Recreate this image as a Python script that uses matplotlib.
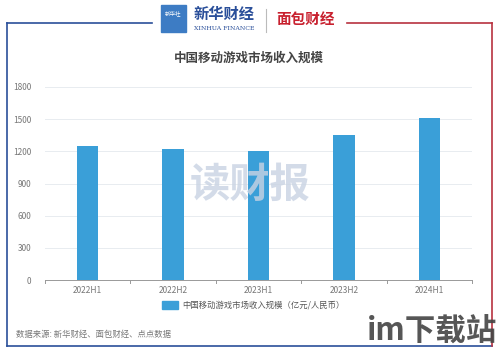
import matplotlib.pyplot as plt
from matplotlib.patches import Rectangle
from matplotlib.lines import Line2D

plt.rcParams['font.family'] = ['Noto Sans CJK SC', 'DejaVu Sans']

# Data
periods = ['2022H1', '2022H2', '2023H1', '2023H2', '2024H1']
revenue = [1250, 1225, 1205, 1350, 1510]
yticks = [0, 300, 600, 900, 1200, 1500, 1800]

title = '中国移动游戏市场收入规模'
legend_label = '中国移动游戏市场收入规模（亿元/人民币）'
source = '数据来源: 新华财经、面包财经、点点数据'

W, H = 499, 353
fig = plt.figure(figsize=(W / 100, H / 100), dpi=100)
fig.patch.set_facecolor('white')


def fx(px):
    return px / W


def fy(py):
    return 1 - py / H


# Frame: blue on the left, red on the right
blue, red = '#2a4f9a', '#b83240'
fig.add_artist(Line2D([fx(7), fx(152)], [fy(23), fy(23)], color=blue, lw=1.2))
fig.add_artist(Line2D([fx(7), fx(7)], [fy(23), fy(346)], color=blue, lw=1.2))
fig.add_artist(Line2D([fx(7), fx(492)], [fy(346), fy(346)], color=blue, lw=1.2))
fig.add_artist(Line2D([fx(347), fx(492)], [fy(23), fy(23)], color=red, lw=1.2))
fig.add_artist(Line2D([fx(492), fx(492)], [fy(23), fy(346)], color=red, lw=1.2))

# Logos (approximate)
fig.add_artist(Rectangle((fx(161), fy(32)), fx(25), 27 / H, color='#3d7cc4', transform=fig.transFigure))
fig.text(fx(173.5), fy(13), '新华社', fontsize=4, color='white', ha='center', va='center')
fig.text(fx(224), fy(14), '新华财经', fontsize=11, color='#2a4f9a', ha='center', va='center',
         fontweight='bold')
fig.text(fx(224), fy(29), 'XINHUA FINANCE', fontsize=4.5, color='#2a4f9a', ha='center', va='center',
         family='DejaVu Serif')
fig.add_artist(Line2D([fx(266), fx(266)], [fy(9), fy(32)], color='#bbbbbb', lw=0.8))
fig.text(fx(306), fy(19), '面包财经', fontsize=10.5, color='#c8202e', ha='center', va='center',
         fontweight='bold')

fig.text(fx(249), fy(58), title, fontsize=9, fontweight='bold', color='#444444',
         ha='center', va='center')

ax = fig.add_axes([fx(45), fy(280), fx(472) - fx(45), (280 - 87) / H])
x = range(len(periods))
ax.bar(x, revenue, width=0.25, color='#3a9fd8', zorder=3)
ax.set_xlim(-0.5, len(periods) - 0.5)
ax.set_ylim(0, 1800)
ax.set_yticks(yticks)
ax.set_yticklabels([str(v) for v in yticks], fontsize=6, color='#777777')
ax.set_xticks(list(x))
ax.set_xticklabels(periods, fontsize=6, color='#777777')
ax.tick_params(axis='x', length=0, pad=4)
ax.tick_params(axis='y', length=0, pad=10)
# boundary ticks on the x axis
for b in [i - 0.5 for i in range(len(periods) + 1)]:
    ax.plot([b, b], [0, -25], color='#999999', lw=0.7, clip_on=False, zorder=4)
ax.grid(axis='y', color='#e8ecf0', lw=0.7, zorder=0)
for s in ['top', 'right', 'left']:
    ax.spines[s].set_visible(False)
ax.spines['bottom'].set_color('#999999')
ax.spines['bottom'].set_linewidth(0.7)

# Watermark
fig.text(fx(250), fy(185), '读财报', fontsize=29, fontweight='bold', color='#c9d3e3',
         alpha=0.8, ha='center', va='center', zorder=5)

# Legend
fig.add_artist(Rectangle((fx(162), fy(309)), fx(16), 8 / H, color='#3a9fd8', transform=fig.transFigure))
fig.text(fx(182), fy(305), legend_label, fontsize=6, color='#555555', ha='left', va='center')

fig.text(fx(16), fy(334), source, fontsize=6, color='#777777', ha='left', va='center')

# bottom-right site watermark
fig.text(fx(497), fy(332), 'im下载站', fontsize=22, fontweight='bold', color='#444444',
         ha='right', va='center', alpha=0.9)

fig.savefig('out.png', dpi=100)
